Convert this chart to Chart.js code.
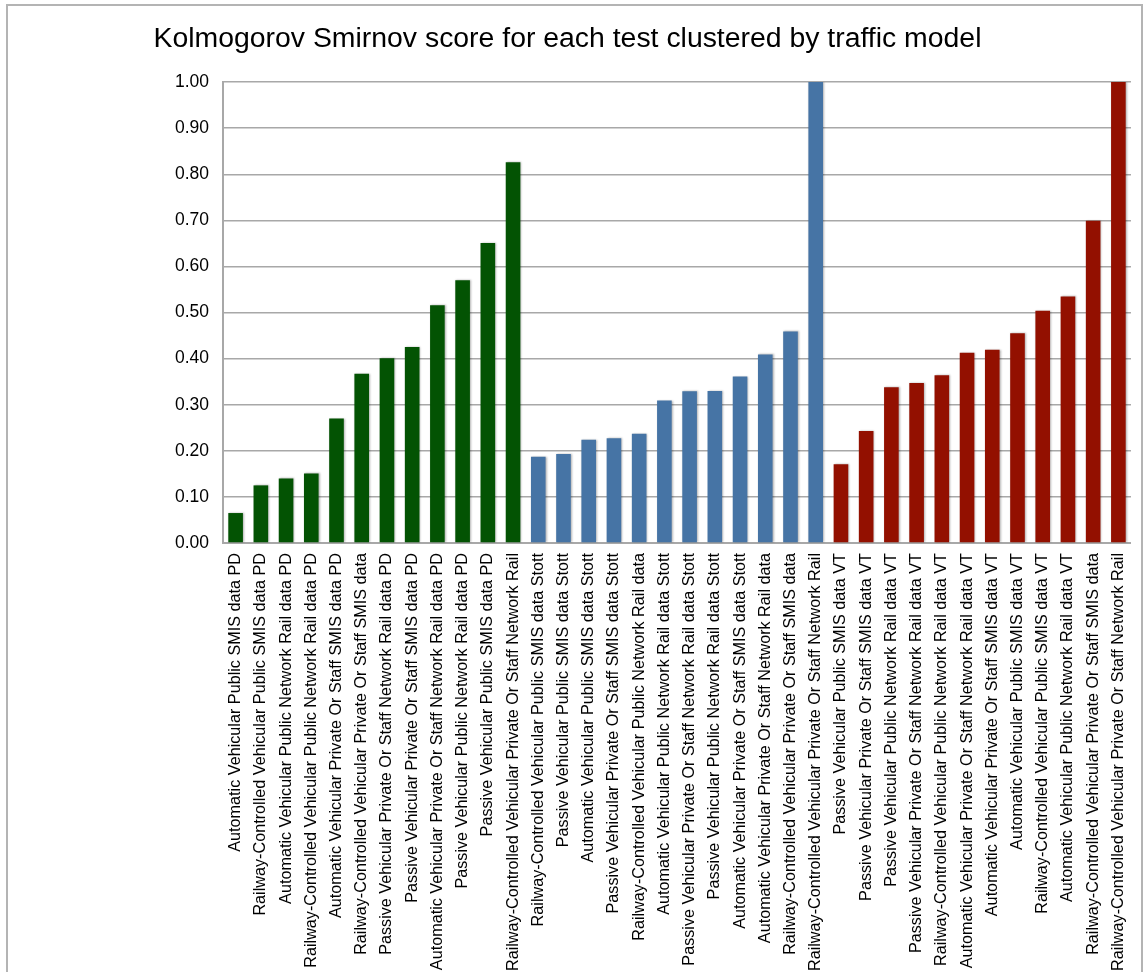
<!DOCTYPE html>
<html>
<head>
<meta charset="utf-8">
<script src="https://cdn.jsdelivr.net/npm/chart.js@4/dist/chart.umd.min.js"></script>
<style>
    html, body { margin: 0; padding: 0; background: #fff; }
    #frame {
        position: absolute;
        left: 6px;
        top: 4px;
        width: 1137px;
        height: 1000px;
        border: 2px solid #b4b4b4;
        box-sizing: border-box;
    }
    #wrap {
        position: absolute;
        left: 0;
        top: 0;
        width: 1148px;
        height: 972px;
    }
</style>
</head>
<body>
<div id="frame"></div>
<div id="wrap"><canvas id="ksChart" width="1148" height="972"></canvas></div>
<script>
// PD cluster
const pdLabels = [
    'Automatic Vehicular Public SMIS data PD',
    'Railway-Controlled Vehicular Public SMIS data PD',
    'Automatic Vehicular Public Network Rail data PD',
    'Railway-Controlled Vehicular Public Network Rail data PD',
    'Automatic Vehicular Private Or Staff SMIS data PD',
    'Railway-Controlled Vehicular Private Or Staff SMIS data',
    'Passive Vehicular Private Or Staff Network Rail data PD',
    'Passive Vehicular Private Or Staff SMIS data PD',
    'Automatic Vehicular Private Or Staff Network Rail data PD',
    'Passive Vehicular Public Network Rail data PD',
    'Passive Vehicular Public SMIS data PD',
    'Railway-Controlled Vehicular Private Or Staff Network Rail'
];
const pdScores = [0.065, 0.125, 0.140, 0.151, 0.270, 0.367, 0.401, 0.425, 0.516, 0.570, 0.651, 0.826];

// Stott cluster
const stottLabels = [
    'Railway-Controlled Vehicular Public SMIS data Stott',
    'Passive Vehicular Public SMIS data Stott',
    'Automatic Vehicular Public SMIS data Stott',
    'Passive Vehicular Private Or Staff SMIS data Stott',
    'Railway-Controlled Vehicular Public Network Rail data',
    'Automatic Vehicular Public Network Rail data Stott',
    'Passive Vehicular Private Or Staff Network Rail data Stott',
    'Passive Vehicular Public Network Rail data Stott',
    'Automatic Vehicular Private Or Staff SMIS data Stott',
    'Automatic Vehicular Private Or Staff Network Rail data',
    'Railway-Controlled Vehicular Private Or Staff SMIS data',
    'Railway-Controlled Vehicular Private Or Staff Network Rail'
];
const stottScores = [0.187, 0.193, 0.224, 0.227, 0.237, 0.309, 0.329, 0.330, 0.361, 0.409, 0.459, 1.00];

// VT cluster
const vtLabels = [
    'Passive Vehicular Public SMIS data VT',
    'Passive Vehicular Private Or Staff SMIS data VT',
    'Passive Vehicular Public Network Rail data VT',
    'Passive Vehicular Private Or Staff Network Rail data VT',
    'Railway-Controlled Vehicular Public Network Rail data VT',
    'Automatic Vehicular Private Or Staff Network Rail data VT',
    'Automatic Vehicular Private Or Staff SMIS data VT',
    'Automatic Vehicular Public SMIS data VT',
    'Railway-Controlled Vehicular Public SMIS data VT',
    'Automatic Vehicular Public Network Rail data VT',
    'Railway-Controlled Vehicular Private Or Staff SMIS data',
    'Railway-Controlled Vehicular Private Or Staff Network Rail'
];
const vtScores = [0.171, 0.243, 0.338, 0.347, 0.364, 0.413, 0.419, 0.455, 0.504, 0.535, 0.699, 1.00];

const yTicks = [0, 0.1, 0.2, 0.3, 0.4, 0.5, 0.6, 0.7, 0.8, 0.9, 1.0];

const GREEN = '#035303';
const BLUE = '#4674a5';
const RED = '#931000';
const GRID = '#a8a8a8';

const labels = pdLabels.concat(stottLabels, vtLabels);
const scores = pdScores.concat(stottScores, vtScores);
const colors = pdScores.map(() => GREEN)
    .concat(stottScores.map(() => BLUE), vtScores.map(() => RED));

// soft drop shadow behind the bars
const barShadow = {
    id: 'barShadow',
    beforeDatasetsDraw(chart) {
        const ctx = chart.ctx;
        ctx.save();
        ctx.shadowColor = 'rgba(0, 0, 0, 0.3)';
        ctx.shadowBlur = 2;
        ctx.shadowOffsetX = 1;
        ctx.shadowOffsetY = 0;
    },
    afterDatasetsDraw(chart) {
        chart.ctx.restore();
    }
};

Chart.defaults.font.family = '"Liberation Sans", Arial, Helvetica, sans-serif';
Chart.defaults.color = '#000';

const ctx = document.getElementById('ksChart').getContext('2d');
new Chart(ctx, {
    type: 'bar',
    data: {
        labels: labels,
        datasets: [{
            label: 'KS score',
            data: scores,
            backgroundColor: colors,
            borderWidth: 0,
            categoryPercentage: 1.0,
            barPercentage: 0.58
        }]
    },
    options: {
        responsive: false,
        animation: false,
        layout: {
            padding: { left: 0, right: 13, top: 0, bottom: 0 }
        },
        plugins: {
            legend: { display: false },
            tooltip: { enabled: false },
            title: {
                display: true,
                text: 'Kolmogorov Smirnov score for each test clustered by traffic model',
                font: { size: 28.4, weight: 'normal' },
                color: '#000',
                padding: { top: 22, bottom: 26 }
            }
        },
        scales: {
            x: {
                grid: { display: false, drawTicks: false },
                border: { color: GRID, width: 2 },
                ticks: {
                    autoSkip: false,
                    minRotation: 90,
                    maxRotation: 90,
                    padding: 10,
                    font: { size: 16.2 },
                    color: '#000'
                },
                afterFit(scale) {
                    scale.height = 429;
                }
            },
            y: {
                min: 0,
                max: 1,
                afterBuildTicks(scale) {
                    scale.ticks = yTicks.map(v => ({ value: v }));
                },
                grid: { color: GRID, lineWidth: 1.5, drawTicks: false },
                border: { color: GRID, width: 2 },
                ticks: {
                    padding: 14,
                    font: { size: 17.5 },
                    color: '#000',
                    callback: v => v.toFixed(2)
                },
                afterFit(scale) {
                    scale.width = 223;
                }
            }
        }
    },
    plugins: [barShadow]
});
</script>
</body>
</html>
